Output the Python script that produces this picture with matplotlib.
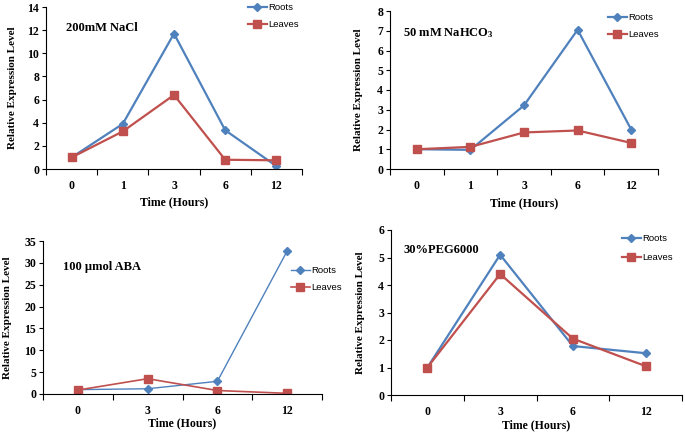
"""Relative expression of roots vs leaves under four stress treatments (2x2 panels)."""

import matplotlib
matplotlib.use('Agg')
import matplotlib.pyplot as plt

plt.rcParams.update({
    'font.family': 'Liberation Serif',
    'font.weight': 'bold',
    'axes.labelweight': 'bold',
    'font.size': 8,
    'mathtext.fontset': 'custom',
    'mathtext.rm': 'Liberation Serif:bold',
    'mathtext.it': 'Liberation Serif:bold',
    'mathtext.bf': 'Liberation Serif:bold',
})

BLUE = '#4F81BD'
RED = '#C0504D'

# --- data ---
nacl_hours = ['0', '1', '3', '6', '12']
nacl_roots = [1.0, 3.9, 11.7, 3.35, 0.25]
nacl_leaves = [1.0, 3.25, 6.4, 0.8, 0.75]

nahco3_hours = ['0', '1', '3', '6', '12']
nahco3_roots = [1.0, 0.97, 3.22, 7.05, 2.0]
nahco3_leaves = [1.0, 1.12, 1.85, 1.95, 1.32]

aba_hours = ['0', '3', '6', '12']
aba_roots = [1.0, 1.2, 2.9, 32.7]
aba_leaves = [0.9, 3.5, 0.8, 0.15]

peg_hours = ['0', '3', '6', '12']
peg_roots = [1.0, 5.1, 1.78, 1.52]
peg_leaves = [1.0, 4.4, 2.05, 1.05]

W, H = 685, 432

# (hours, roots, leaves, title, ymax, ystep, axes px box [l, t, r, b],
#  title px, legend px, ylabel x, xlabel y, roots lw, leaves lw, legend spacing)
PANELS = [
    (nacl_hours, nacl_roots, nacl_leaves, '200mM NaCl', 14, 2,
     (46, 7, 302, 169), (66, 28), (248, 3), -0.113, -0.17, 1.6, 1.6, 0.85),
    (nahco3_hours, nahco3_roots, nahco3_leaves, r'50 mM NaHCO$_3$', 8, 1,
     (390, 11, 658, 169), (403, 33), (608, 13), -0.10, -0.177, 1.6, 1.6, 0.85),
    (aba_hours, aba_roots, aba_leaves, '100 \u00b5mol ABA', 35, 5,
     (43, 241, 322, 394), (63, 267), (291, 266), -0.11, -0.15, 1.0, 1.2, 0.85),
    (peg_hours, peg_roots, peg_leaves, '30%PEG6000', 6, 1,
     (391, 230, 682, 395), (404, 250), (622, 234), -0.09, -0.15, 1.6, 1.6, 1.05),
]


def main():
    fig = plt.figure(figsize=(W / 100, H / 100), dpi=100)

    for (hours, roots, leaves, title, ymax, ystep, box, tpos, lpos,
         ylx, xly, lw_r, lw_l, lsp) in PANELS:
        l, t, r, b = box
        ax = fig.add_axes([l / W, 1 - b / H, (r - l) / W, (b - t) / H])
        x = list(range(len(hours)))

        ax.plot(x, roots, color=BLUE, lw=lw_r, marker='D', markersize=4,
                label='Roots')
        ax.plot(x, leaves, color=RED, lw=lw_l, marker='s', markersize=5.8,
                label='Leaves')

        ax.set_xlim(-0.5, len(hours) - 0.5)
        ax.set_ylim(0, ymax)
        ax.set_yticks(range(0, ymax + 1, ystep))

        # Excel-style category axis: tick marks between categories
        ax.set_xticks([i - 0.5 for i in range(len(hours) + 1)])
        ax.set_xticklabels([])
        ax.set_xticks(x, minor=True)
        ax.set_xticklabels(hours, minor=True)
        ax.tick_params(axis='x', which='major', length=4, width=0.8)
        ax.tick_params(axis='x', which='minor', length=0, pad=8, labelsize=8.5)
        ax.tick_params(axis='y', length=3, width=0.8, labelsize=8.5, pad=2)

        for s in ('top', 'right'):
            ax.spines[s].set_visible(False)
        for s in ('left', 'bottom'):
            ax.spines[s].set_linewidth(0.8)

        ax.set_ylabel('Relative Expression Level', fontsize=8)
        ax.yaxis.set_label_coords(ylx, 0.5)
        ax.set_xlabel('Time (Hours)', fontsize=8.5)
        ax.xaxis.set_label_coords(0.5, xly)

        fig.text(tpos[0] / W, 1 - tpos[1] / H, title, fontsize=9,
                 fontweight='bold', va='center', ha='left')

        ax.legend(loc='upper left', bbox_to_anchor=(lpos[0] / W, 1 - lpos[1] / H),
                  bbox_transform=fig.transFigure, frameon=False,
                  prop={'family': 'Liberation Sans', 'weight': 'normal', 'size': 6.8},
                  handlelength=2.0, handletextpad=0.1, labelspacing=lsp,
                  borderpad=0, borderaxespad=0)

    fig.savefig('out.png', dpi=100)


if __name__ == '__main__':
    main()
